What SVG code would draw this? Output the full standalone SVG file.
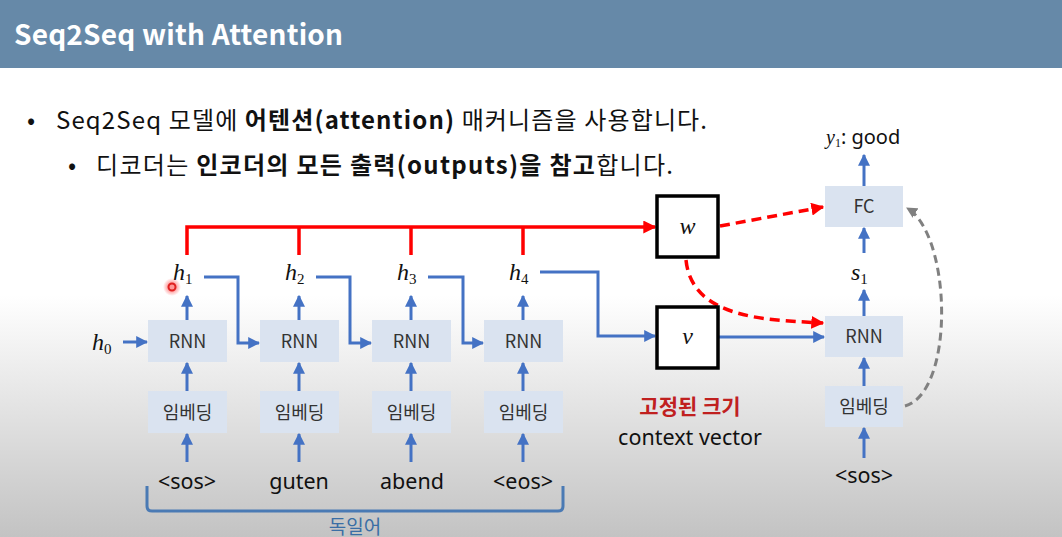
<svg xmlns="http://www.w3.org/2000/svg" width="1062" height="537" viewBox="0 0 1062 537">
<defs>
<linearGradient id="bg" x1="0" y1="0" x2="0" y2="1">
<stop offset="0" stop-color="#ffffff"/>
<stop offset="0.55" stop-color="#ffffff"/>
<stop offset="1" stop-color="#c3c3c3"/>
</linearGradient>
<radialGradient id="dot">
<stop offset="0.4" stop-color="#ff3030" stop-opacity="0.5"/>
<stop offset="1" stop-color="#ff3030" stop-opacity="0"/>
</radialGradient>
<marker id="ab" viewBox="0 0 10 10" refX="9" refY="5" markerWidth="12" markerHeight="12" markerUnits="userSpaceOnUse" orient="auto">
<path d="M0,0 L10,5 L0,10 z" fill="#4472c4"/>
</marker>
<marker id="ar" viewBox="0 0 10 10" refX="9" refY="5" markerWidth="13" markerHeight="13" markerUnits="userSpaceOnUse" orient="auto">
<path d="M0,0 L10,5 L0,10 z" fill="#ff0000"/>
</marker>
<marker id="ag" viewBox="0 0 10 10" refX="9" refY="5" markerWidth="11" markerHeight="11" markerUnits="userSpaceOnUse" orient="auto">
<path d="M0,0 L10,5 L0,10 z" fill="#808080"/>
</marker>
<style>
.box{fill:#dae3f0;}
.bt{font-family:"Noto Sans CJK KR","Noto Sans",sans-serif;font-size:18px;fill:#333;text-anchor:middle;}
.word{font-family:"Noto Sans","Noto Sans CJK KR",sans-serif;font-size:21.5px;fill:#111;text-anchor:middle;}
.math{font-family:"Liberation Serif",serif;font-style:italic;font-size:24px;fill:#111;}
.sub{font-size:15px;font-style:normal;}
.bl{fill:none;stroke:#4472c4;stroke-width:3;marker-end:url(#ab);}
.rd{fill:none;stroke:#ff0000;stroke-width:3.5;}
.rdd{fill:none;stroke:#ff0000;stroke-width:3.5;stroke-dasharray:10 6;marker-end:url(#ar);}
.kb{font-family:"Noto Sans CJK KR","Noto Sans",sans-serif;font-size:24px;fill:#111;}
.vb{fill:#fff;stroke:#000;stroke-width:3.5;}
</style>
</defs>
<rect x="0" y="0" width="1062" height="537" fill="url(#bg)"/>
<rect x="0" y="0" width="1062" height="68" fill="#6689a8"/>
<text x="14" y="45" font-family="Noto Sans CJK KR, Noto Sans, sans-serif" font-weight="700" font-size="28" fill="#fff" textLength="329">Seq2Seq with Attention</text>

<text class="kb" x="27" y="129">•</text>
<text class="kb" x="56" y="129" textLength="651">Seq2Seq 모델에 <tspan font-weight="700">어텐션(attention)</tspan> 매커니즘을 사용합니다.</text>
<text class="kb" x="68" y="174">•</text>
<text class="kb" x="96" y="174" textLength="577">디코더는 <tspan font-weight="700">인코더의 모든 출력(outputs)을 참고</tspan>합니다.</text>

<g id="connectors">
<path class="rd" d="M187,255 V227 H655" marker-end="url(#ar)"/>
<path class="rd" d="M299,255 V227"/>
<path class="rd" d="M411,255 V227"/>
<path class="rd" d="M523,255 V227"/>
<path class="bl" d="M123,342 H147"/>
<path class="bl" d="M187,320 V296"/>
<path class="bl" d="M299,320 V296"/>
<path class="bl" d="M411,320 V296"/>
<path class="bl" d="M523,320 V296"/>
<path class="bl" d="M187,391 V363"/>
<path class="bl" d="M299,391 V363"/>
<path class="bl" d="M411,391 V363"/>
<path class="bl" d="M523,391 V363"/>
<path class="bl" d="M187,462 V434"/>
<path class="bl" d="M299,462 V434"/>
<path class="bl" d="M411,462 V434"/>
<path class="bl" d="M523,462 V434"/>
<path class="bl" d="M204,277 H238 V343 H259"/>
<path class="bl" d="M316,277 H350 V343 H371"/>
<path class="bl" d="M428,277 H463 V343 H483"/>
<path class="bl" d="M540,272 H598 V336 H655"/>
<path class="bl" d="M718,337 H824"/>
<path class="bl" d="M864,458 V428"/>
<path class="bl" d="M864,386 V358"/>
<path class="bl" d="M864,316 V290"/>
<path class="bl" d="M864,253 V228"/>
<path class="bl" d="M864,186 V155"/>
<path class="rdd" d="M720,226 L823,207"/>
<path class="rdd" d="M686,260 C692,320 770,320 823,323"/>
<path d="M905,406 C955,392 952,235 907,208" fill="none" stroke="#808080" stroke-width="3" stroke-dasharray="8 5" marker-end="url(#ag)"/>
<path d="M147,486 V506 Q147,511 152,511 H558 Q563,511 563,506 V486" fill="none" stroke="#4a7ab4" stroke-width="3"/>
</g>

<g id="enc-rnn-1"><rect class="box" x="148" y="320" width="79" height="42"/><text class="bt" x="187.5" y="348">RNN</text></g>
<g id="enc-rnn-2"><rect class="box" x="260" y="320" width="79" height="42"/><text class="bt" x="299.5" y="348">RNN</text></g>
<g id="enc-rnn-3"><rect class="box" x="372" y="320" width="79" height="42"/><text class="bt" x="411.5" y="348">RNN</text></g>
<g id="enc-rnn-4"><rect class="box" x="484" y="320" width="79" height="42"/><text class="bt" x="523.5" y="348">RNN</text></g>
<g id="enc-emb-1"><rect class="box" x="148" y="391" width="79" height="42"/><text class="bt" x="187.5" y="419">임베딩</text></g>
<g id="enc-emb-2"><rect class="box" x="260" y="391" width="79" height="42"/><text class="bt" x="299.5" y="419">임베딩</text></g>
<g id="enc-emb-3"><rect class="box" x="372" y="391" width="79" height="42"/><text class="bt" x="411.5" y="419">임베딩</text></g>
<g id="enc-emb-4"><rect class="box" x="484" y="391" width="79" height="42"/><text class="bt" x="523.5" y="419">임베딩</text></g>

<g id="h-labels">
<text class="math" x="92" y="350">h<tspan class="sub" dy="4">0</tspan></text>
<text class="math" x="173" y="280">h<tspan class="sub" dy="4">1</tspan></text>
<text class="math" x="285" y="280">h<tspan class="sub" dy="4">2</tspan></text>
<text class="math" x="397" y="280">h<tspan class="sub" dy="4">3</tspan></text>
<text class="math" x="509" y="280">h<tspan class="sub" dy="4">4</tspan></text>
</g>

<g id="words">
<text class="word" x="187" y="489">&lt;sos&gt;</text>
<text class="word" x="299" y="489">guten</text>
<text class="word" x="412" y="489">abend</text>
<text class="word" x="523" y="489">&lt;eos&gt;</text>
<text x="355" y="534" font-family="Noto Sans CJK KR, sans-serif" font-size="19" fill="#3a6ea5" text-anchor="middle">독일어</text>
</g>

<g id="w-box"><rect class="vb" x="657" y="196" width="61" height="61"/><text class="math" x="687.5" y="234" text-anchor="middle" font-size="27">w</text></g>
<g id="v-box"><rect class="vb" x="657" y="307" width="61" height="61"/><text class="math" x="687.5" y="344" text-anchor="middle" font-size="27">v</text></g>

<g id="context-label">
<text x="690" y="414" font-family="Noto Sans CJK KR, sans-serif" font-weight="700" font-size="21" fill="#c0201f" text-anchor="middle">고정된 크기</text>
<text x="690" y="445" font-family="Noto Sans, sans-serif" font-size="21.5" fill="#111" text-anchor="middle">context vector</text>
</g>

<g id="dec-fc"><rect class="box" x="825" y="186" width="78" height="41"/><text class="bt" x="864" y="213">FC</text></g>
<g id="dec-rnn"><rect class="box" x="825" y="316" width="78" height="41"/><text class="bt" x="864" y="343">RNN</text></g>
<g id="dec-emb"><rect class="box" x="825" y="386" width="78" height="41"/><text class="bt" x="864" y="413">임베딩</text></g>
<g id="dec-labels">
<text class="math" x="851" y="280">s<tspan class="sub" dy="4">1</tspan></text>
<text x="826" y="144" font-family="Noto Sans, sans-serif" font-size="20" fill="#111"><tspan font-family="Liberation Serif, serif" font-style="italic" font-size="20">y</tspan><tspan font-family="Liberation Serif, serif" font-size="12" dy="3">1</tspan><tspan dy="-3">: good</tspan></text>
<text class="word" x="864" y="483">&lt;sos&gt;</text>
</g>

<circle cx="172" cy="287" r="9" fill="url(#dot)"/>
<circle cx="172" cy="287" r="3.5" fill="none" stroke="#e02020" stroke-width="2"/>
</svg>
